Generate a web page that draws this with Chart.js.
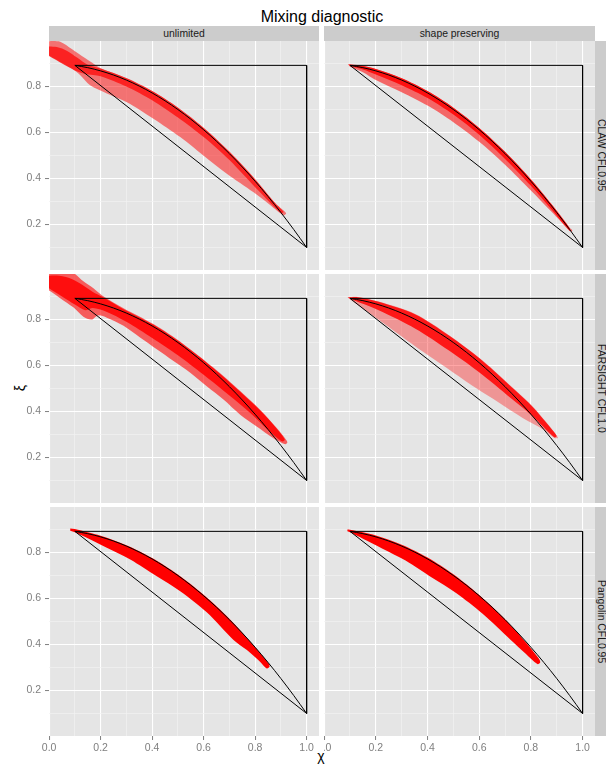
<!DOCTYPE html>
<html><head><meta charset="utf-8">
<script src="https://cdn.jsdelivr.net/npm/chart.js@4.4.1/dist/chart.umd.min.js"></script>
<style>
html,body{margin:0;padding:0;background:#fff;}
body{width:606px;height:766px;position:relative;overflow:hidden;font-family:"Liberation Sans",Arial,sans-serif;}
canvas{position:absolute;}
.bg{position:absolute;background:#E5E5E5;}
.strip{position:absolute;background:#CCCCCC;}
.stxt{position:absolute;color:#1A1A1A;font-size:10.4px;display:flex;align-items:center;justify-content:center;white-space:nowrap;}
.vert{writing-mode:vertical-rl;}
#title{position:absolute;left:49px;width:546px;top:9px;line-height:16px;font-size:16px;text-align:center;color:#000;}
#xlab{position:absolute;left:300px;width:42px;top:748px;line-height:16px;font-size:14px;text-align:center;}
#ylab{position:absolute;left:12px;width:16px;top:380px;height:16px;line-height:16px;font-size:14px;text-align:center;transform:rotate(-90deg);}
</style></head><body>
<div id="title">Mixing diagnostic</div>
<div id="xlab">χ</div>
<div id="ylab">ξ</div>
<script>
// ---- data ----
const columnLabels = ['unlimited', 'shape preserving'];
const rowLabels = ['CLAW CFL0.95', 'FARSIGHT CFL1.0', 'Pangolin CFL0.95'];
const xMajorTicks = [0.0, 0.2, 0.4, 0.6, 0.8, 1.0];
const xMinorTicks = [0.1, 0.3, 0.5, 0.7, 0.9];
const yMajorTicks = [0.2, 0.4, 0.6, 0.8];
const yMinorTicks = [0.1, 0.3, 0.5, 0.7, 0.9];
const triangleChi = [0.1, 1.0, 1.0, 0.1];
const triangleXi = [0.892, 0.892, 0.1, 0.892];
const curveChi = [0.10,0.15,0.20,0.25,0.30,0.35,0.40,0.45,0.50,0.55,0.60,0.65,0.70,0.75,0.80,0.85,0.90,0.95,1.00];
const curveXi  = [0.892,0.882,0.868,0.850,0.828,0.802,0.772,0.738,0.700,0.658,0.612,0.562,0.508,0.450,0.388,0.322,0.252,0.178,0.100];

// scatter cloud outlines: [chi, xi]
const clawUnlimitedBand = [[-0.03,0.985],[0.0,0.997],[0.043,0.995],[0.088,0.963],[0.127,0.933],[0.166,0.904],[0.2,0.879],[0.3,0.837],[0.4,0.781],[0.5,0.709],[0.6,0.621],[0.7,0.517],[0.8,0.397],[0.88,0.29],[0.92,0.25],
  [0.91,0.24],[0.858,0.285],[0.794,0.34],[0.69,0.421],[0.599,0.5],[0.509,0.58],[0.405,0.66],[0.302,0.732],[0.224,0.77],[0.159,0.805],[0.12,0.85],[0.088,0.878],[0.043,0.907],[0.0,0.935],[-0.03,0.95]];
const clawUnlimitedCore = [[-0.02,0.975],[0.03,0.972],[0.07,0.955],[0.11,0.925],[0.15,0.895],[0.2,0.878],[0.3,0.836],[0.4,0.78],[0.5,0.708],[0.6,0.62],[0.7,0.516],[0.8,0.396],[0.88,0.29],[0.91,0.255],
  [0.9,0.25],[0.8,0.362],[0.7,0.48],[0.6,0.58],[0.5,0.665],[0.4,0.74],[0.3,0.8],[0.2,0.845],[0.14,0.855],[0.1,0.87],[0.05,0.9],[-0.02,0.945]];
const clawShapeBand = [[0.092,0.898],[0.15,0.89],[0.2,0.876],[0.3,0.836],[0.4,0.78],[0.5,0.708],[0.6,0.62],[0.7,0.516],[0.8,0.396],[0.88,0.288],[0.95,0.186],[0.96,0.175],
  [0.955,0.168],[0.88,0.255],[0.8,0.348],[0.7,0.46],[0.6,0.56],[0.5,0.645],[0.4,0.717],[0.3,0.775],[0.2,0.828],[0.15,0.862],[0.1,0.886]];
const clawShapeCore = [[0.095,0.896],[0.15,0.889],[0.2,0.876],[0.3,0.836],[0.4,0.78],[0.5,0.708],[0.6,0.62],[0.7,0.516],[0.8,0.396],[0.88,0.288],[0.95,0.184],
  [0.95,0.172],[0.88,0.265],[0.8,0.368],[0.7,0.485],[0.6,0.59],[0.5,0.678],[0.4,0.75],[0.3,0.806],[0.2,0.852],[0.15,0.874],[0.1,0.889]];
const farsightUnlimitedBand = [[-0.03,1.0],[0.0,1.01],[0.082,1.01],[0.133,0.966],[0.172,0.936],[0.2045,0.906],[0.289,0.849],[0.405,0.78],[0.522,0.693],[0.638,0.591],[0.742,0.489],[0.819,0.408],[0.884,0.328],[0.92,0.277],[0.925,0.265],
  [0.917,0.258],[0.871,0.284],[0.806,0.335],[0.742,0.386],[0.677,0.452],[0.612,0.51],[0.548,0.569],[0.483,0.62],[0.418,0.671],[0.353,0.722],[0.289,0.773],[0.224,0.808],[0.19,0.818],[0.165,0.8],[0.133,0.812],[0.094,0.853],[0.043,0.893],[0.0,0.926],[-0.03,0.94]];
const farsightUnlimitedCore = [[-0.02,0.99],[0.04,0.99],[0.09,0.975],[0.13,0.95],[0.17,0.92],[0.2045,0.9],[0.289,0.845],[0.405,0.777],[0.522,0.69],[0.638,0.588],[0.742,0.486],[0.819,0.405],[0.884,0.325],[0.915,0.278],
  [0.905,0.27],[0.85,0.32],[0.78,0.395],[0.7,0.47],[0.6,0.56],[0.5,0.645],[0.4,0.72],[0.3,0.79],[0.22,0.835],[0.17,0.85],[0.14,0.84],[0.1,0.865],[0.05,0.9],[-0.02,0.95]];
const farsightShapeBand = [[0.09,0.897],[0.13,0.898],[0.211,0.878],[0.353,0.824],[0.483,0.732],[0.612,0.623],[0.742,0.491],[0.806,0.423],[0.871,0.338],[0.9,0.295],[0.905,0.285],
  [0.891,0.285],[0.845,0.324],[0.768,0.372],[0.677,0.438],[0.586,0.503],[0.483,0.583],[0.353,0.683],[0.224,0.788],[0.101,0.887]];
const farsightShapeCore = [[0.092,0.896],[0.13,0.897],[0.211,0.877],[0.353,0.822],[0.483,0.73],[0.612,0.621],[0.742,0.489],[0.806,0.421],[0.871,0.336],[0.9,0.293],
  [0.89,0.288],[0.806,0.38],[0.742,0.44],[0.612,0.56],[0.483,0.665],[0.353,0.76],[0.211,0.84],[0.1,0.89]];
const pangolinUnlimitedBand = [[0.082,0.905],[0.1,0.902],[0.15,0.888],[0.2,0.873],[0.3,0.832],[0.4,0.776],[0.5,0.704],[0.6,0.616],[0.7,0.512],[0.794,0.396],[0.852,0.318],[0.856,0.303],
  [0.845,0.296],[0.819,0.325],[0.768,0.376],[0.716,0.42],[0.612,0.54],[0.509,0.632],[0.418,0.697],[0.315,0.77],[0.224,0.821],[0.15,0.862],[0.1,0.888],[0.082,0.895]];
const pangolinShapeBand = [[0.09,0.9],[0.1,0.899],[0.15,0.888],[0.2,0.874],[0.3,0.834],[0.4,0.778],[0.5,0.705],[0.6,0.615],[0.7,0.51],[0.78,0.41],[0.83,0.34],[0.836,0.322],
  [0.825,0.315],[0.78,0.36],[0.722,0.42],[0.612,0.535],[0.509,0.625],[0.418,0.69],[0.315,0.765],[0.224,0.818],[0.15,0.86],[0.1,0.888],[0.09,0.892]];

// ---- layout ----
const colX = [[49,319],[324,595]];
const rowY = [[41,270],[274,503],[507,736]];
const X_MIN = -0.0005, X_MAX = 1.048, Y_MIN = 0.002, Y_MAX = 0.998;

const panels = [
  {r:0,c:0,band:clawUnlimitedBand,core:clawUnlimitedCore,ba:0.5,ca:0.7},
  {r:0,c:1,band:clawShapeBand,core:clawShapeCore,ba:0.55,ca:0.85},
  {r:1,c:0,band:farsightUnlimitedBand,core:farsightUnlimitedCore,ba:0.6,ca:0.85},
  {r:1,c:1,band:farsightShapeBand,core:farsightShapeCore,ba:0.35,ca:0.85},
  {r:2,c:0,band:pangolinUnlimitedBand,core:null,ba:1,ca:1},
  {r:2,c:1,band:pangolinShapeBand,core:null,ba:1,ca:1}
];

function addDiv(cls, l, t, w, h, txt){
  const d=document.createElement('div'); d.className=cls;
  Object.assign(d.style,{left:l+'px',top:t+'px',width:w+'px',height:h+'px'});
  if(txt!==undefined) d.textContent=txt;
  document.body.appendChild(d); return d;
}
colX.forEach((cx,i)=>{ addDiv('strip',cx[0],26,cx[1]-cx[0],15); addDiv('stxt',cx[0],26,cx[1]-cx[0],15,columnLabels[i]); });
rowY.forEach((ry,i)=>{ addDiv('strip',595,ry[0],20,ry[1]-ry[0]); addDiv('stxt vert',595,ry[0],13.4,ry[1]-ry[0],rowLabels[i]); });

const near=(v,arr)=>arr.some(a=>Math.abs(a-v)<1e-6);
const zip=(a,b)=>a.map((v,i)=>({x:v,y:b[i]}));
const pts=arr=>arr.map(p=>({x:p[0],y:p[1]}));
const FONT = {family:'"Liberation Sans", Arial, sans-serif', size:10.5};
const noPad = s=>{s.paddingTop=0;s.paddingBottom=0;s.paddingLeft=0;s.paddingRight=0;};

panels.forEach(p=>{
  const [x0,x1]=colX[p.c], [y0,y1]=rowY[p.r];
  addDiv('bg',x0,y0,x1-x0,y1-y0);
  const left = p.c===0, bottom = p.r===2;
  const cvL = left ? 0 : x0, cvW = x1 - cvL;
  const cvH = (y1-y0) + (bottom ? 22 : 0);
  const cv=document.createElement('canvas');
  cv.width=cvW; cv.height=cvH;
  Object.assign(cv.style,{left:cvL+'px',top:y0+'px',width:cvW+'px',height:cvH+'px'});
  document.body.appendChild(cv);
  const ds=[
    {data:zip(triangleChi,triangleXi),borderColor:'#000',borderWidth:1,pointRadius:0,fill:false,tension:0},
    {data:zip(curveChi,curveXi),borderColor:'#000',borderWidth:1,pointRadius:0,fill:false,cubicInterpolationMode:'monotone'}
  ];
  if(p.core) ds.push({data:pts(p.core),borderWidth:0,borderColor:'rgba(0,0,0,0)',pointRadius:0,fill:'shape',backgroundColor:`rgba(255,0,0,${p.ca})`,tension:0.3});
  ds.push({data:pts(p.band),borderWidth:0,borderColor:'rgba(0,0,0,0)',pointRadius:0,fill:'shape',backgroundColor:`rgba(255,0,0,${p.ba})`,tension:0.3});
  const xT=[...xMajorTicks,...xMinorTicks].sort((a,b)=>a-b);
  const yT=[...yMinorTicks,...yMajorTicks].sort((a,b)=>a-b);
  new Chart(cv,{
    type:'line',
    data:{datasets:ds},
    options:{
      responsive:false,animation:false,devicePixelRatio:1,
      layout:{padding:0},
      plugins:{legend:{display:false},tooltip:{enabled:false}},
      scales:{
        x:{type:'linear',min:X_MIN,max:X_MAX,
          afterBuildTicks:s=>{s.ticks=xT.map(v=>({value:v}));},
          afterFit:s=>{s.height=bottom?22:0;noPad(s);},
          border:{display:false},
          grid:{color:c=>near(c.tick.value,xMajorTicks)?'#FFFFFF':'#F2F2F2',lineWidth:c=>near(c.tick.value,xMajorTicks)?1.1:0.7,
                drawTicks:bottom,tickLength:4,tickWidth:1,tickColor:c=>near(c.tick.value,xMajorTicks)?'#7F7F7F':'rgba(0,0,0,0)'},
          ticks:{display:bottom,autoSkip:false,maxRotation:0,padding:2,font:FONT,color:'#7F7F7F',
                callback:v=>near(v,xMajorTicks)?v.toFixed(1):''}
        },
        y:{type:'linear',min:Y_MIN,max:Y_MAX,
          afterBuildTicks:s=>{s.ticks=yT.map(v=>({value:v}));},
          afterFit:s=>{s.width=left?49:0;noPad(s);},
          border:{display:false},
          grid:{color:c=>near(c.tick.value,yMajorTicks)?'#FFFFFF':'#F2F2F2',lineWidth:c=>near(c.tick.value,yMajorTicks)?1.1:0.7,
                drawTicks:left,tickLength:4,tickWidth:1,tickColor:c=>near(c.tick.value,yMajorTicks)?'#7F7F7F':'rgba(0,0,0,0)'},
          ticks:{display:left,autoSkip:false,padding:4,font:FONT,color:'#7F7F7F',
                callback:v=>near(v,yMajorTicks)?v.toFixed(1):''}
        }
      }
    }
  });
});
</script>
</body></html>
